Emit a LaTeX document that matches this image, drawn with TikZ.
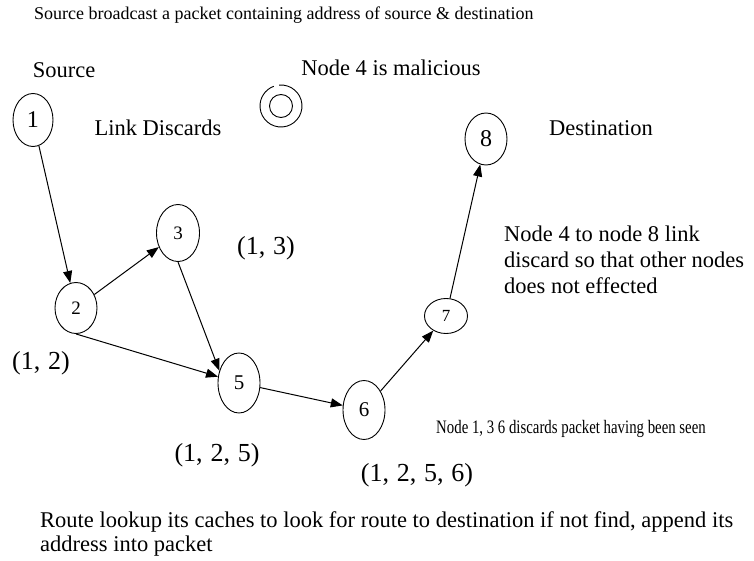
\documentclass[tikz,border=0pt]{standalone}
\usepackage{fontspec}
\setmainfont{Liberation Serif}
\usetikzlibrary{shapes.geometric,arrows.meta}
\begin{document}
\begin{tikzpicture}[x=1pt,y=-1pt,
  nd/.style={draw,ellipse,inner sep=0pt,line width=0.9pt},
  lbl/.style={inner sep=0pt,font=\fontsize{22.5}{24}\selectfont},
  tup/.style={inner sep=0pt,font=\fontsize{26}{26}\selectfont},
  arr/.style={line width=1pt,-{Triangle[length=12pt,width=9pt]}}]
\useasboundingbox (0,0) rectangle (754,561);
\fill[white] (0,0) rectangle (754,561);
% nodes
\node[nd,minimum width=40pt,minimum height=53pt,font=\fontsize{24}{24}\selectfont] (n1) at (33,120) {1};
\node[nd,minimum width=42pt,minimum height=51pt,font=\fontsize{19}{19}\selectfont] (n2) at (76,308) {2};
\node[nd,minimum width=43pt,minimum height=57pt,font=\fontsize{19}{19}\selectfont] (n3) at (178,233) {3};
\node[nd,minimum width=42pt,minimum height=60pt,font=\fontsize{21}{21}\selectfont] (n5) at (239,383) {5};
\node[nd,minimum width=42pt,minimum height=59pt,font=\fontsize{21}{21}\selectfont] (n6) at (364,410) {6};
\node[nd,minimum width=43pt,minimum height=35pt,font=\fontsize{17}{17}\selectfont] (n7) at (446,316) {7};
\node[nd,minimum width=42pt,minimum height=52pt,font=\fontsize{24}{24}\selectfont] (n8) at (486,139) {8};
% malicious node 4
\node[draw,circle,inner sep=0pt,minimum size=23pt,line width=0.9pt] (n4) at (281,106) {};
\draw[line width=0.9pt] (n4.center) ++(-95:21) arc[start angle=-95,end angle=250,radius=21];
% edges
\draw[arr] (n1) -- (n2);
\draw[arr] (n2) -- (n3);
\draw[arr] (n2.south) -- (n5);
\draw[arr] (n3.south) -- (n5.148);
\draw[arr] (n5) -- (n6);
\draw[arr] (n6) -- (n7);
\draw[arr] (n7) -- (n8);
% texts
\node[anchor=west,inner sep=0pt,font=\fontsize{18}{18}\selectfont] (title) at (34,15) {Source broadcast a packet containing address of source \& destination};
\node[lbl] (tsrc) at (64,70) {Source};
\node[lbl] (tlink) at (158,128) {Link Discards};
\node[lbl] (tmal) at (391,68) {Node 4 is malicious};
\node[lbl] (tdst) at (601,128) {Destination};
\node[tup] (t13) at (266,248) {(1,\hspace{0.3em}3)};
\node[tup] (t12) at (41,363) {(1,\hspace{0.3em}2)};
\node[tup] (t125) at (217,455) {(1,\hspace{0.3em}2,\hspace{0.3em}5)};
\node[tup] (t1256) at (417,475) {(1,\hspace{0.3em}2,\hspace{0.3em}5,\hspace{0.3em}6)};
\node[anchor=north west,inner sep=0pt,align=left,font=\fontsize{22.5}{26}\selectfont] (tlinkd) at (504,226) {Node 4 to node 8 link\\discard so that other nodes\\does not effected};
\node[inner sep=0pt] (tseen) at (571,429) {\scalebox{0.78}[1]{\fontsize{19}{19}\selectfont Node 1, 3 6 discards packet having been seen}};
\node[anchor=north west,inner sep=0pt,align=left,font=\fontsize{22.5}{24}\selectfont] (tbot) at (40,511) {Route lookup its caches to look for route to destination if not find, append its\\address into packet};
\end{tikzpicture}
\end{document}
